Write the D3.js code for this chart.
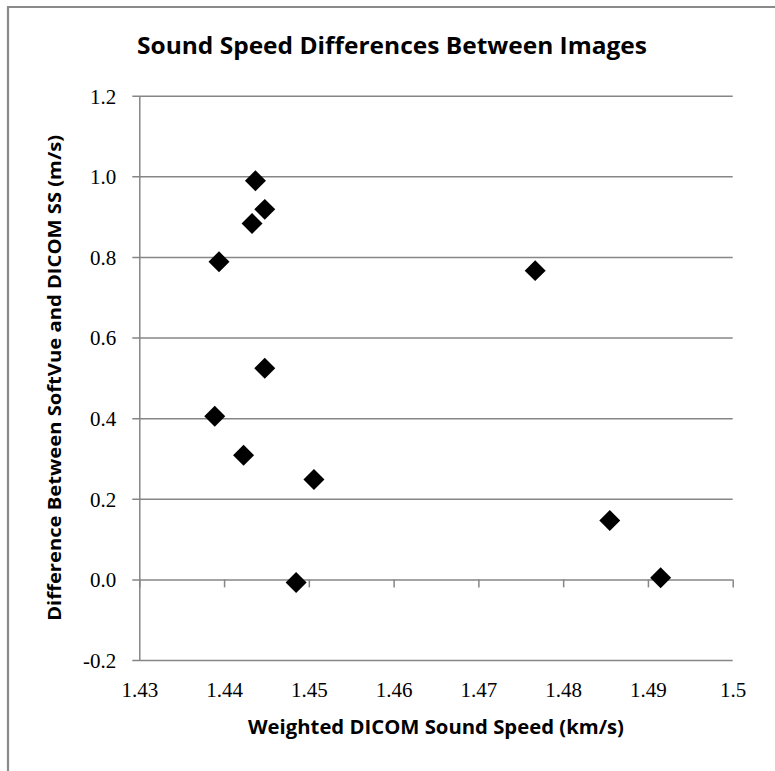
<!DOCTYPE html>
<html>
<head>
<meta charset="utf-8">
<script src="https://cdn.jsdelivr.net/npm/d3@7"></script>
<style>
  body { margin: 0; background: #fff; }
  svg { display: block; }
  .tick text { font-family: "Liberation Serif", serif; font-size: 21px; fill: #000; }
  .ttl { font-family: "Open Sans", sans-serif; font-weight: bold; fill: #000; }
</style>
</head>
<body>
<div id="chart"></div>
<script>
const speed = [1.4437, 1.4448, 1.4433, 1.4394, 1.4448, 1.4389, 1.4423, 1.4506, 1.4485, 1.4767, 1.4855, 1.4915]
const diff = [0.989, 0.918, 0.883, 0.788, 0.524, 0.405, 0.308, 0.248, -0.008, 0.766, 0.146, 0.004]
const xTicks = [1.43, 1.44, 1.45, 1.46, 1.47, 1.48, 1.49, 1.5]
const yTicks = [-0.2, 0, 0.2, 0.4, 0.6, 0.8, 1.0, 1.2]

const W = 775, H = 771
const margin = { top: 95.7, left: 139.3 }
const width = 593.4, height = 564.3
const gridColor = "#868686"

const svg = d3.select("#chart").append("svg")
    .attr("width", W)
    .attr("height", H)

// chart area border (only top and left show in the picture)
svg.append("path")
    .attr("d", "M8,771V7H775")
    .attr("fill", "none")
    .attr("stroke", "#8a8a8a")
    .attr("stroke-width", 2.2)

const g = svg.append("g")
    .attr("transform", "translate(" + margin.left + "," + margin.top + ")")

const x = d3.scaleLinear().domain([1.43, 1.5]).range([0, width])
const y = d3.scaleLinear().domain([-0.2, 1.2]).range([height, 0])

// horizontal gridlines, reaching a little left of the axis as ticks
g.append("g")
    .attr("class", "grid")
    .call(d3.axisLeft(y).tickValues(yTicks).tickSize(-width).tickFormat(""))
    .call(function (sel) {
        sel.select(".domain").remove()
        sel.selectAll("line").attr("x1", -7).attr("x2", width)
            .attr("stroke", gridColor).attr("stroke-width", 1.5)
    })

// y axis with labels (plain hyphen for the minus, as in the original)
g.append("g")
    .call(d3.axisLeft(y).tickValues(yTicks).tickSize(0).tickPadding(23)
        .tickFormat(function (d) { return d.toFixed(1) }))
    .call(function (sel) {
        sel.select(".domain").attr("stroke", gridColor).attr("stroke-width", 1.5)
        sel.selectAll("text").attr("dy", "0.35em")
    })

// x axis crosses at y = 0, ticks hang below it
g.append("g")
    .attr("transform", "translate(0," + y(0) + ")")
    .call(d3.axisBottom(x).tickValues(xTicks).tickSize(8).tickFormat(""))
    .call(function (sel) {
        sel.select(".domain").remove()
        sel.selectAll("line").attr("stroke", gridColor).attr("stroke-width", 1.5)
    })

// x labels sit low, under the plot
g.append("g")
    .attr("transform", "translate(0," + height + ")")
    .call(d3.axisBottom(x).tickValues(xTicks).tickSize(0).tickPadding(22)
        .tickFormat(function (d) { return String(d) }))
    .call(function (sel) { sel.select(".domain").remove() })

// markers
const diamond = d3.symbol().type(d3.symbolSquare).size(220)
g.append("g")
    .selectAll("path")
    .data(speed.map(function (s, i) { return { s: s, d: diff[i] } }))
    .enter()
    .append("path")
    .attr("d", diamond)
    .attr("transform", function (d) { return "translate(" + x(d.s) + "," + y(d.d) + ") rotate(45)" })
    .attr("fill", "#000")

// titles
svg.append("text")
    .attr("class", "ttl")
    .attr("x", 392).attr("y", 54)
    .attr("text-anchor", "middle")
    .attr("font-size", 23)
    .attr("textLength", 510).attr("lengthAdjust", "spacingAndGlyphs")
    .text("Sound Speed Differences Between Images")

svg.append("text")
    .attr("class", "ttl")
    .attr("x", margin.left + width / 2).attr("y", 734)
    .attr("text-anchor", "middle")
    .attr("font-size", 19)
    .attr("textLength", 376).attr("lengthAdjust", "spacingAndGlyphs")
    .text("Weighted DICOM Sound Speed (km/s)")

svg.append("text")
    .attr("class", "ttl")
    .attr("transform", "translate(61," + (margin.top + height / 2) + ") rotate(-90)")
    .attr("text-anchor", "middle")
    .attr("font-size", 18)
    .attr("textLength", 486).attr("lengthAdjust", "spacingAndGlyphs")
    .text("Difference Between SoftVue and DICOM SS (m/s)")
</script>
</body>
</html>
